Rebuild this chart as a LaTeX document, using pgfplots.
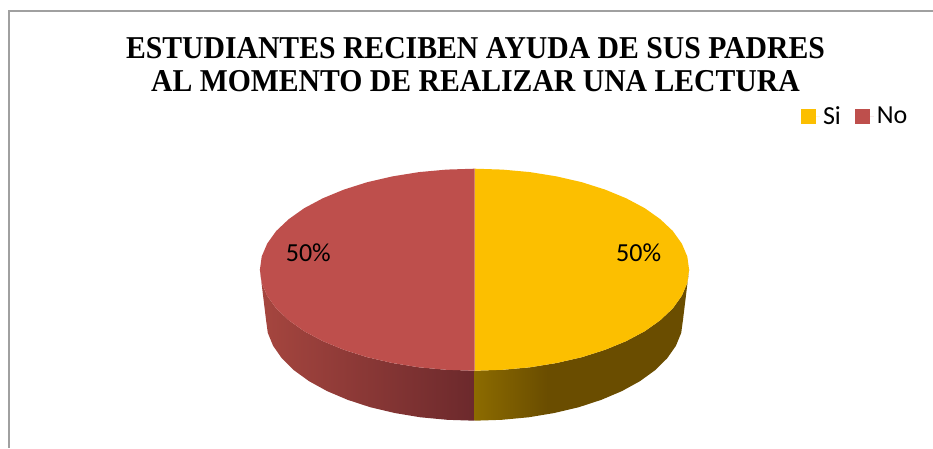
\documentclass[border=0pt]{standalone}
\usepackage{fontspec}
\setmainfont{Carlito}
\newfontfamily\titlefont{Liberation Serif}
\usepackage{pgfplots}
\pgfplotsset{compat=1.18}
\definecolor{gold}{HTML}{FCBF00}
\definecolor{brick}{HTML}{BE4F4C}
\definecolor{framegray}{HTML}{A0A0A0}
\definecolor{rwallA}{HTML}{A6463F}
\definecolor{rwallB}{HTML}{6C292C}
\definecolor{gwallA}{HTML}{8C6B00}
\definecolor{gwallB}{HTML}{6A4D00}
\pgfdeclarehorizontalshading{goldwall}{100bp}{color(0bp)=(gwallA); color(25bp)=(gwallA); color(42bp)=(gwallB); color(100bp)=(gwallB)}
\begin{document}
\begin{tikzpicture}
\path[use as bounding box] (0,0) rectangle (933pt,448pt);
\begin{axis}[
  at={(0,0)},anchor=south west,
  scale only axis, width=933pt, height=448pt,
  xmin=-474.5, xmax=458.5, ymin=-178.3, ymax=269.7,
  hide axis, clip=true,
  legend columns=2,
  legend style={at={(axis cs:326.5,153.5)},anchor=west,draw=none,fill=none,
    font=\fontsize{26}{26}\selectfont,inner sep=0pt,outer sep=0pt,
    /tikz/every even column/.append style={column sep=11pt},
    nodes={inner xsep=3pt,inner ysep=0pt}},
  legend image code/.code={\path (0pt,0pt) rectangle (19pt,0pt);\fill[#1] (0pt,-7.5pt) rectangle (15pt,7.5pt);},
]
% frame
\addplot[forget plot,framegray,line width=1.3pt] coordinates {(-465.5,-178.3) (-465.5,258.7) (458.5,258.7)};
% side walls
\addplot[forget plot,draw=none,left color=rwallA,right color=rwallB] coordinates {
 (-214.6,0) (-212.8,-13.2) (-207.3,-26.1) (-198.3,-38.7) (-185.8,-50.5) (-170.3,-61.5) (-151.7,-71.4)
 (-130.6,-80.1) (-107.3,-87.5) (-82.1,-93.3) (-55.5,-97.6) (-28,-100.1) (0,-101)
 (0,-151) (-27.2,-150.1) (-54,-147.6) (-79.8,-143.3) (-104.3,-137.5) (-126.9,-130.1) (-147.4,-121.4)
 (-165.4,-111.5) (-180.6,-100.5) (-192.6,-88.7) (-201.4,-76.1) (-206.7,-63.2) (-208.5,-50)} -- cycle;
\addplot[forget plot,draw=none,shading=goldwall] coordinates {
 (214.6,0) (212.8,-13.2) (207.3,-26.1) (198.3,-38.7) (185.8,-50.5) (170.3,-61.5) (151.7,-71.4)
 (130.6,-80.1) (107.3,-87.5) (82.1,-93.3) (55.5,-97.6) (28,-100.1) (0,-101)
 (0,-151) (27.2,-150.1) (54,-147.6) (79.8,-143.3) (104.3,-137.5) (126.9,-130.1) (147.4,-121.4)
 (165.4,-111.5) (180.6,-100.5) (192.6,-88.7) (201.4,-76.1) (206.7,-63.2) (208.5,-50)} -- cycle;
% pie tops: Si 50, No 50
\addplot[draw=none,fill=gold] coordinates {
 (0,101) (28,100.1) (55.5,97.6) (82.1,93.3) (107.3,87.5) (130.6,80.1) (151.7,71.4) (170.3,61.5)
 (185.8,50.5) (198.3,38.7) (207.3,26.1) (212.8,13.2) (214.6,0)
 (212.8,-13.2) (207.3,-26.1) (198.3,-38.7) (185.8,-50.5) (170.3,-61.5) (151.7,-71.4)
 (130.6,-80.1) (107.3,-87.5) (82.1,-93.3) (55.5,-97.6) (28,-100.1) (0,-101)} -- cycle;
\addlegendentry{Si}
\addplot[draw=none,fill=brick] coordinates {
 (0,101) (-28,100.1) (-55.5,97.6) (-82.1,93.3) (-107.3,87.5) (-130.6,80.1) (-151.7,71.4) (-170.3,61.5)
 (-185.8,50.5) (-198.3,38.7) (-207.3,26.1) (-212.8,13.2) (-214.6,0)
 (-212.8,-13.2) (-207.3,-26.1) (-198.3,-38.7) (-185.8,-50.5) (-170.3,-61.5) (-151.7,-71.4)
 (-130.6,-80.1) (-107.3,-87.5) (-82.1,-93.3) (-55.5,-97.6) (-28,-100.1) (0,-101)} -- cycle;
\addlegendentry{No}
\node[font=\fontsize{26}{26}\selectfont] at (axis cs:164.2,17) {50\%};
\node[font=\fontsize{26}{26}\selectfont] at (axis cs:-166.2,17) {50\%};
\node[font=\titlefont\bfseries\fontsize{29.7}{31}\selectfont,align=center,anchor=base,yscale=1.07,transform shape] at (axis cs:1,178.5)
  {ESTUDIANTES RECIBEN AYUDA DE SUS PADRES\\AL MOMENTO DE REALIZAR UNA LECTURA};
\end{axis}
\end{tikzpicture}
\end{document}
